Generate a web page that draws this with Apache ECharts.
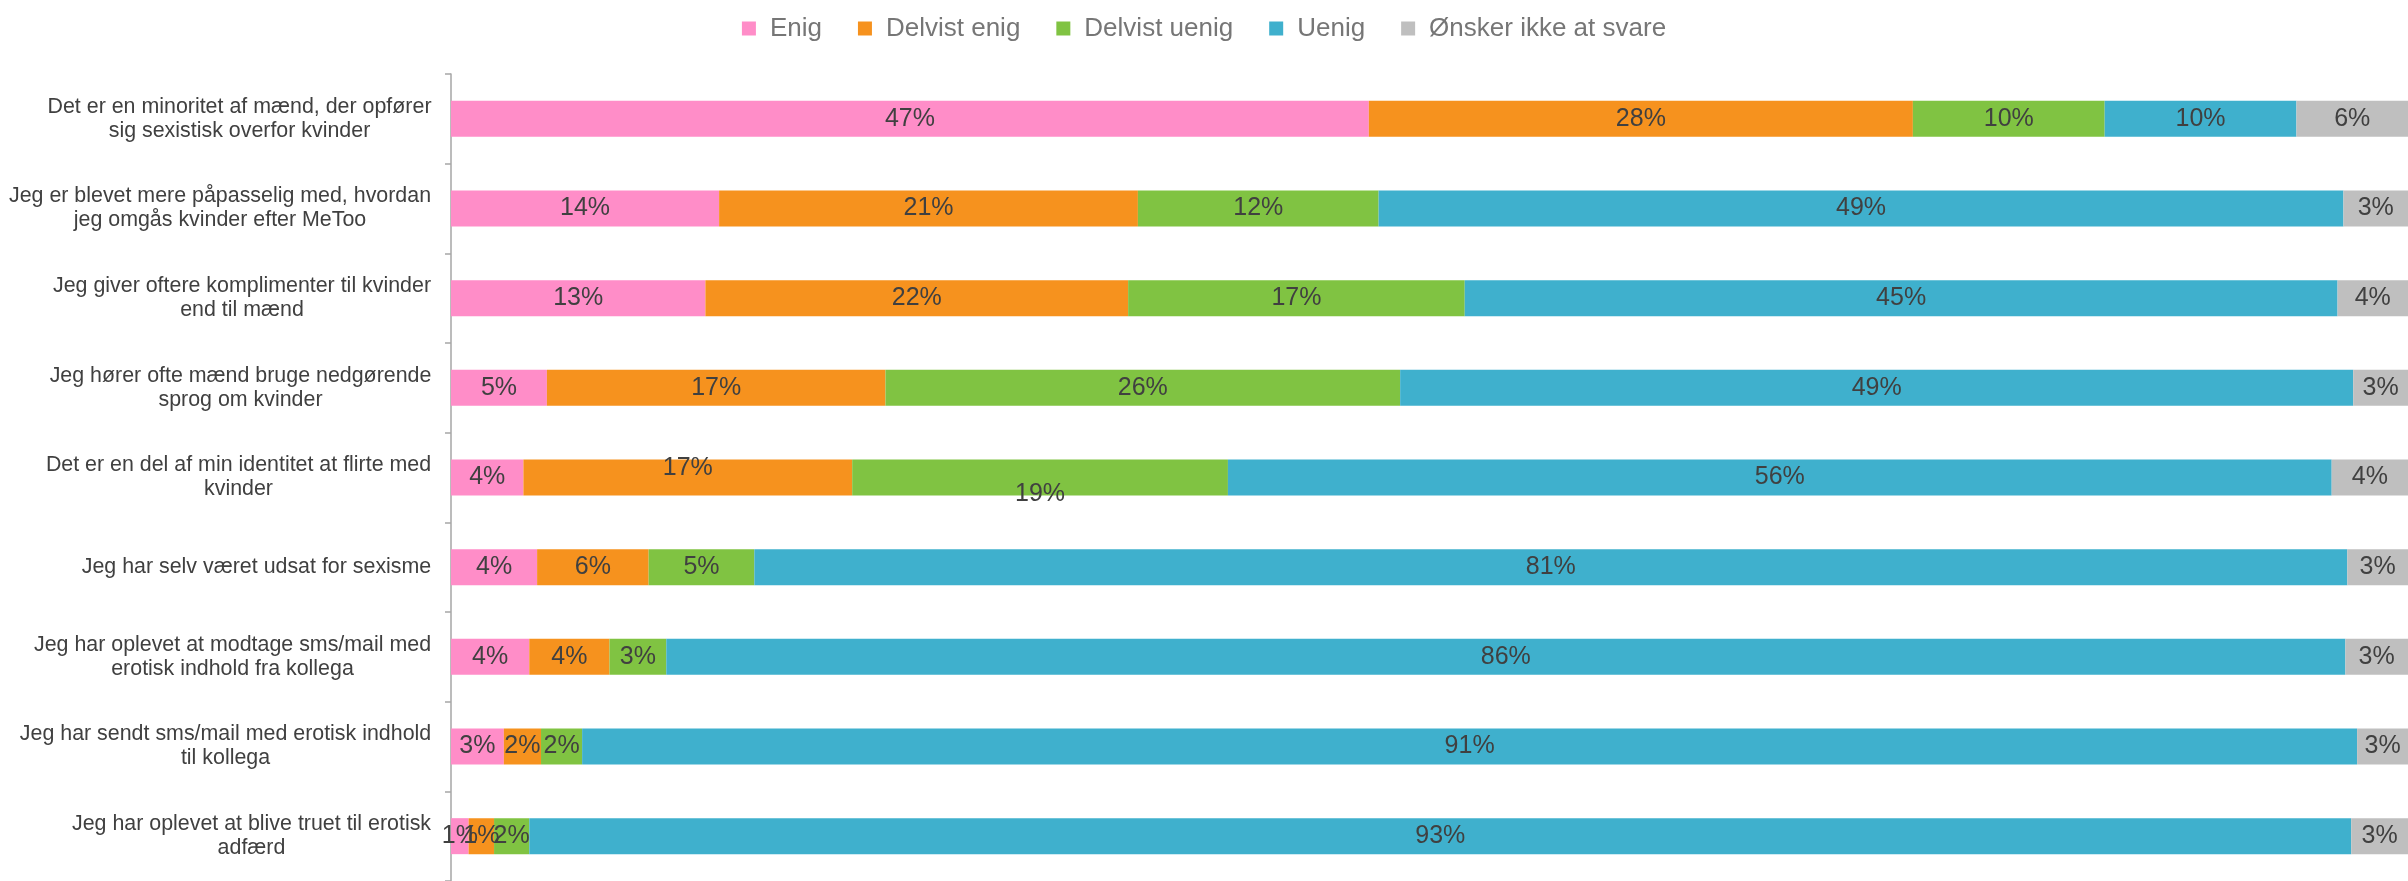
<!DOCTYPE html>
<html>
<head>
<meta charset="utf-8">
<script src="https://cdn.jsdelivr.net/npm/echarts@6/dist/echarts.min.js"></script>
<style>
  html, body { margin: 0; padding: 0; background: #ffffff; }
  #chart { width: 2408px; height: 881px; }
</style>
</head>
<body>
<div id="chart"></div>
<script>
const categories = [
  'Det er en minoritet af mænd, der opfører\nsig sexistisk overfor kvinder',
  'Jeg er blevet mere påpasselig med, hvordan\njeg omgås kvinder efter MeToo',
  'Jeg giver oftere komplimenter til kvinder\nend til mænd',
  'Jeg hører ofte mænd bruge nedgørende\nsprog om kvinder',
  'Det er en del af min identitet at flirte med\nkvinder',
  'Jeg har selv været udsat for sexisme',
  'Jeg har oplevet at modtage sms/mail med\nerotisk indhold fra kollega',
  'Jeg har sendt sms/mail med erotisk indhold\ntil kollega',
  'Jeg har oplevet at blive truet til erotisk\nadfærd'
]

const seriesNames = ['Enig', 'Delvist enig', 'Delvist uenig', 'Uenig', 'Ønsker ikke at svare']

// andele i procent, aflæst fra segmenternes bredde
const enig = [46.9, 13.7, 13.0, 4.9, 3.7, 4.4, 4.0, 2.7, 0.9]
const delvistEnig = [27.8, 21.4, 21.6, 17.3, 16.8, 5.7, 4.1, 1.9, 1.3]
const delvistUenig = [9.8, 12.3, 17.2, 26.3, 19.2, 5.4, 2.9, 2.1, 1.8]
const uenig = [9.8, 49.3, 44.6, 48.7, 56.4, 81.4, 85.8, 90.7, 93.1]
const oenskerIkke = [5.7, 3.3, 3.6, 2.8, 3.9, 3.1, 3.2, 2.6, 2.9]

const colors = ['#FF8DC8', '#F6921E', '#80C342', '#3FB0CD', '#BFBFBF']
const FONT = 'Liberation Sans, Arial, sans-serif'

// labels that sit off-centre in the original (row 5)
const labelShift = { '1-4': [0, -9], '2-4': [0, 17] }

// category labels: block right-aligned at the axis, lines centred within it
const catFontSize = 21.4
const measureCtx = document.createElement('canvas').getContext('2d')
measureCtx.font = catFontSize + 'px ' + FONT
const rich = {}
categories.forEach((c, i) => {
  const w = Math.max(...c.split('\n').map(l => measureCtx.measureText(l).width))
  rich['c' + i] = {
    width: Math.ceil(w) + 1,
    align: 'center',
    color: '#404040',
    fontSize: catFontSize,
    lineHeight: 24,
    fontFamily: FONT
  }
})

const chart = echarts.init(document.getElementById('chart'))

const values = [enig, delvistEnig, delvistUenig, uenig, oenskerIkke]

const series = values.map((arr, si) => ({
  name: seriesNames[si],
  type: 'bar',
  stack: 'total',
  barWidth: 36,
  itemStyle: { color: colors[si] },
  label: {
    show: true,
    position: 'inside',
    color: '#404040',
    fontSize: 25,
    fontFamily: FONT,
    formatter: p => Math.round(p.value) + '%'
  },
  data: arr.map((v, i) => {
    const shift = labelShift[si + '-' + i]
    return shift ? { value: v, label: { offset: shift } } : v
  })
}))

const option = {
  backgroundColor: '#ffffff',
  animation: false,
  color: colors,
  legend: {
    top: 10,
    left: 'center',
    icon: 'rect',
    itemWidth: 14,
    itemHeight: 14,
    itemGap: 36,
    textStyle: {
      color: '#767676',
      fontSize: 26,
      lineHeight: 27,
      fontFamily: FONT,
      padding: [0, 0, 0, 9]
    },
    data: seriesNames
  },
  grid: {
    left: 451,
    right: 0,
    top: 74,
    height: 811,
    containLabel: false
  },
  xAxis: {
    type: 'value',
    min: 0,
    max: 100,
    show: false
  },
  yAxis: {
    type: 'category',
    inverse: true,
    data: categories,
    axisLine: { show: true, lineStyle: { color: '#A6A6A6', width: 1.5 } },
    axisTick: { show: true, length: 6, lineStyle: { color: '#A6A6A6', width: 1.5 } },
    axisLabel: {
      margin: 19,
      align: 'right',
      rich: rich,
      formatter: (v, i) => v.split('\n').map(l => '{c' + i + '|' + l + '}').join('\n')
    }
  },
  series: series
}

chart.setOption(option, true)
</script>
</body>
</html>
